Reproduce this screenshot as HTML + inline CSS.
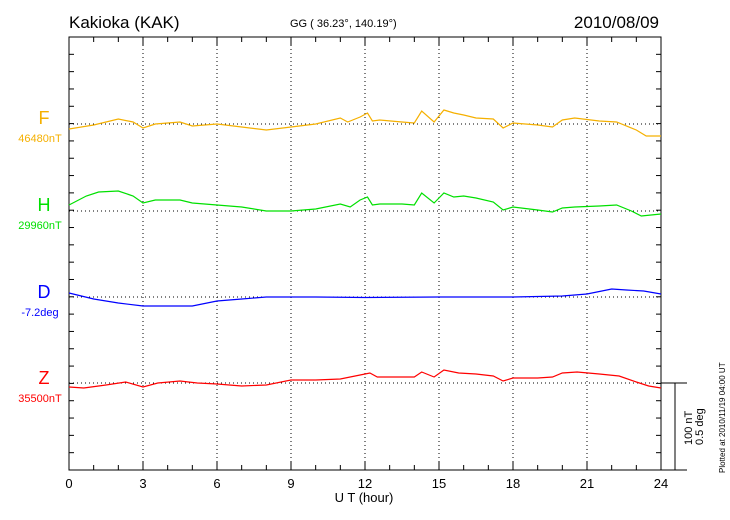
<!DOCTYPE html>
<html><head><meta charset="utf-8"><style>
body{margin:0;background:#fff;width:730px;height:520px;overflow:hidden}
svg{display:block;font-family:"Liberation Sans",sans-serif}
</style></head><body>
<svg id="s" width="730" height="520" xmlns="http://www.w3.org/2000/svg">
<text x="69" y="28" font-size="17">Kakioka (KAK)</text>
<text x="290" y="27" font-size="11">GG ( 36.23°, 140.19°)</text>
<text x="659" y="28" font-size="17" text-anchor="end">2010/08/09</text>
<g id="grid" stroke="#000" stroke-width="1" stroke-dasharray="1,3" fill="none"></g>
<g id="ax" stroke="#000" stroke-width="1" fill="none"></g>
<g id="lab" font-size="13" text-anchor="middle"></g>
<text x="44" y="124" font-size="18" fill="#f5b000" text-anchor="middle">F</text>
<text x="40" y="142" font-size="11" fill="#f5b000" text-anchor="middle">46480nT</text>
<text x="44" y="211" font-size="18" fill="#00e000" text-anchor="middle">H</text>
<text x="40" y="229" font-size="11" fill="#00e000" text-anchor="middle">29960nT</text>
<text x="44" y="298" font-size="18" fill="#0000ff" text-anchor="middle">D</text>
<text x="40" y="316" font-size="11" fill="#0000ff" text-anchor="middle">-7.2deg</text>
<text x="44" y="384" font-size="18" fill="#ff0000" text-anchor="middle">Z</text>
<text x="40" y="402" font-size="11" fill="#ff0000" text-anchor="middle">35500nT</text>
<text x="364" y="502" font-size="13" text-anchor="middle">U T (hour)</text>
<text transform="translate(692,445) rotate(-90)" font-size="11" text-anchor="start">100 nT</text>
<text transform="translate(703,445) rotate(-90)" font-size="11" text-anchor="start">0.5 deg</text>
<text transform="translate(725,473) rotate(-90)" font-size="8">Plotted at 2010/11/19 04:00 UT</text>
<g id="series" fill="none" stroke-width="1.2"></g>
</svg>
<script>
const L=69,R=661,T=37,B=470,W=(R-L)/24;
const X=h=>L+h*W;
let g=document.getElementById('grid'),a=document.getElementById('ax'),lb=document.getElementById('lab'),sr=document.getElementById('series');
let gh='';
for(let h=3;h<24;h+=3)gh+=`<line x1="${X(h)}" y1="${T}" x2="${X(h)}" y2="${B}"/>`;
[124,211,297,383].forEach(y=>gh+=`<line x1="${L}" y1="${y}" x2="${R}" y2="${y}"/>`);
g.innerHTML=gh;
let ah=`<rect x="${L}" y="${T}" width="${R-L}" height="${B-T}"/><line x1="${R}" y1="${B}" x2="687" y2="${B}"/><line x1="${R}" y1="383" x2="687" y2="383"/><line x1="675" y1="383" x2="675" y2="${B}"/>`;
for(let h=0;h<=24;h++){let l=h%3?5:8;ah+=`<line x1="${X(h)}" y1="${B}" x2="${X(h)}" y2="${B-l}"/><line x1="${X(h)}" y1="${T}" x2="${X(h)}" y2="${T+l}"/>`;}
for(let i=1;i<25;i++){let y=T+i*(B-T)/25;ah+=`<line x1="${L}" y1="${y}" x2="${L+5}" y2="${y}"/><line x1="${R}" y1="${y}" x2="${R-5}" y2="${y}"/>`;}
a.innerHTML=ah;
let lh='';for(let h=0;h<=24;h+=3)lh+=`<text x="${X(h)}" y="488">${h}</text>`;lb.innerHTML=lh;
const S={
'#f5b000':[[0,129],[1,125],[2,119],[2.6,122],[3,128],[3.5,124],[4.5,122],[5,126],[6,124],[7,127],[8,130],[9,127],[10,124],[11,118],[11.3,122],[11.8,117],[12.1,113],[12.3,121],[12.6,120],[13.5,122],[14,123],[14.3,111],[14.8,122],[15.2,110],[15.6,113],[16,115],[16.5,118],[17.2,119],[17.6,128],[18,123],[19,125],[19.6,127],[20,120],[20.5,118],[21.5,121],[22.2,122],[23,130],[23.4,136],[24,136]],
'#00e000':[[0,205],[0.7,196],[1.2,192],[2,191],[2.6,196],[3,203],[3.5,200],[4.5,200],[5,203],[6,205],[7,207],[8,211],[9,211],[10,209],[11,204],[11.4,207],[11.8,200],[12.1,197],[12.3,205],[12.6,204],[13.5,204],[14,205],[14.3,193],[14.8,203],[15.2,193],[15.6,197],[16,196],[16.5,198],[17.2,202],[17.6,210],[18,207],[19,210],[19.6,212],[20,208],[20.5,207],[21.5,206],[22.2,205],[22.8,211],[23.2,216],[24,214]],
'#0000ff':[[0,293],[1,299],[2,303],[3,306],[4,306],[5,306],[6,301],[7,299],[8,297],[10,297],[12,297.5],[15,297],[18,297],[20,296],[21,294],[22,289],[22.6,290],[23.3,291],[24,294]],
'#ff0000':[[0,387],[0.6,388],[1.5,385],[2.3,382],[3,387],[3.6,383],[4.5,381],[5.2,383],[6,384],[7,386],[8,385],[9,380],[10,380],[11,379],[11.8,375],[12.2,373],[12.5,377],[13.5,377],[14,377],[14.3,372],[14.8,377],[15.2,370],[15.8,373],[16.5,374],[17.2,376],[17.6,381],[18,378],[19,378],[19.6,377],[20,373],[20.6,372],[21.5,374],[22.3,376],[23,382],[23.5,386],[24,388]]
};
let sh='';for(const c in S){sh+=`<polyline stroke="${c}" points="${S[c].map(p=>X(p[0]).toFixed(1)+','+p[1]).join(' ')}"/>`;}
sr.innerHTML=sh;
</script>
</body></html>
